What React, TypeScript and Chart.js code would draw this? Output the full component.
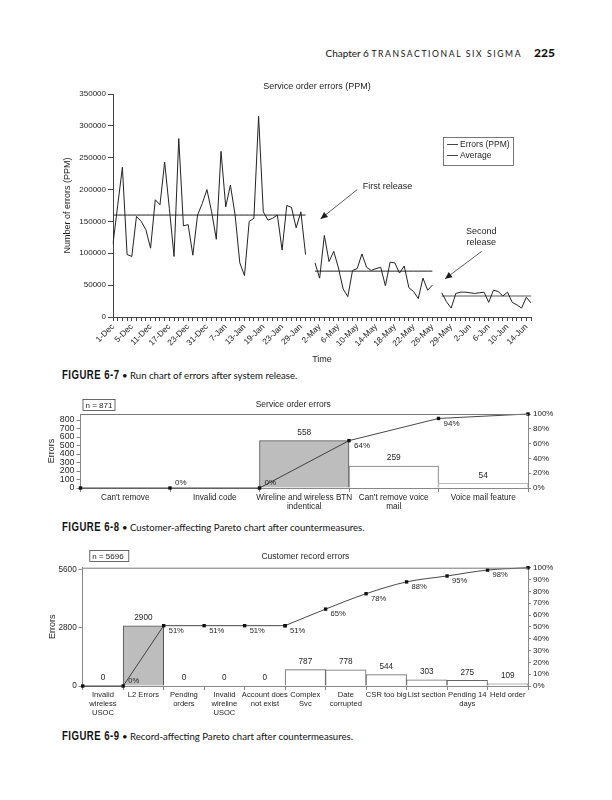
import React, { useEffect, useRef } from 'react';
import { Chart, registerables } from 'chart.js';

Chart.register(...registerables);

const SANS = '"Liberation Sans", Arial, Helvetica, sans-serif';
const INK = '#1e1e1e';

// ---------- Figure 6-7 : run chart ----------
const runTickLabels = ['1-Dec', '5-Dec', '11-Dec', '17-Dec', '23-Dec', '31-Dec', '7-Jan', '13-Jan', '19-Jan', '23-Jan', '29-Jan', '2-May', '6-May', '10-May', '14-May', '18-May', '22-May', '26-May', '29-May', '2-Jun', '6-Jun', '10-Jun', '14-Jun'];
const decJanErrors = [115000, 175000, 235000, 98000, 95000, 158000, 150000, 137000, 108000, 184000, 176000, 243000, 170000, 95000, 280000, 143000, 145000, 97000, 160000, 178000, 200000, 165000, 122000, 260000, 173000, 207000, 160000, 85000, 65000, 150000, 155000, 315000, 165000, 152000, 155000, 160000, 105000, 175000, 172000, 140000, 165000, 98000];
const mayErrors = [85000, 61000, 128000, 87000, 103000, 77000, 44000, 32000, 73000, 76000, 99000, 78000, 73000, 76000, 78000, 49000, 86000, 85000, 69000, 80000, 46000, 40000, 29000, 61000, 42000, 50000];
const juneErrors = [38000, 24000, 14000, 37000, 39000, 39000, 38000, 37000, 38000, 39000, 23000, 42000, 40000, 33000, 39000, 23000, 19000, 14000, 31000, 22000];
const periodAverages = [160000, 72000, 33000];
const runYMax = 350000;
const runYStep = 50000;

// ---------- Figure 6-8 : service order errors pareto ----------
const svcCategories = [["Can't remove"], ['Invalid code'], ['Wireline and wireless BTN', 'indentical'], ["Can't remove voice", 'mail'], ['Voice mail feature']];
const svcErrors = [0, 0, 558, 259, 54];
const svcCumPct = [0, 0, 0, 64, 94, 100];
const svcCumLabels = ['', '0%', '0%', '64%', '94%', ''];
const svcTotal = 871;
const svcLeftTicks = [0, 100, 200, 300, 400, 500, 600, 700, 800];
const svcRightTicks = [0, 20, 40, 60, 80, 100];

// ---------- Figure 6-9 : customer record errors pareto ----------
const recCategories = [['Invalid', 'wireless', 'USOC'], ['L2 Errors'], ['Pending', 'orders'], ['Invalid', 'wireline', 'USOC'], ['Account does', 'not exist'], ['Complex', 'Svc'], ['Date', 'corrupted'], ['CSR too big'], ['List section'], ['Pending 14', 'days'], ['Held order']];
const recErrors = [0, 2900, 0, 0, 0, 787, 778, 544, 303, 275, 109];
const recCumPct = [0, 0, 51, 51, 51, 51, 65, 78, 88, 93, 98, 100];
const recCumLabels = ['', '0%', '51%', '51%', '51%', '51%', '65%', '78%', '88%', '95%', '98%', ''];
const recTotal = 5696;
const recLeftTicks = [0, 2800, 5600];
const recRightTicks = [0, 10, 20, 30, 40, 50, 60, 70, 80, 90, 100];

function drawArrow(ctx: CanvasRenderingContext2D, x1: number, y1: number, x2: number, y2: number) {
  ctx.beginPath();
  ctx.moveTo(x1, y1);
  ctx.lineTo(x2, y2);
  ctx.stroke();
  const ang = Math.atan2(y2 - y1, x2 - x1);
  const len = 7;
  const w = 3.2;
  const bx = x2 - len * Math.cos(ang);
  const by = y2 - len * Math.sin(ang);
  ctx.beginPath();
  ctx.moveTo(x2, y2);
  ctx.lineTo(bx + w * Math.sin(ang), by - w * Math.cos(ang));
  ctx.lineTo(bx - w * Math.sin(ang), by + w * Math.cos(ang));
  ctx.closePath();
  ctx.fill();
}

function RunChart() {
  const ref = useRef<HTMLCanvasElement>(null);
  useEffect(() => {
    const errors: (number | null)[] = [...decJanErrors, null, ...mayErrors, null, ...juneErrors];
    const labels = errors.map((_, i) => (i % 4 === 0 ? runTickLabels[i / 4] ?? '' : ''));
    const e1 = decJanErrors.length - 1;
    const s2 = decJanErrors.length + 1;
    const e2 = s2 + mayErrors.length - 1;
    const s3 = e2 + 2;
    const avgDark = errors.map((_, i) => (i <= e1 ? periodAverages[0] : i >= s2 && i <= e2 ? periodAverages[1] : null));
    const avgLight = errors.map((_, i) => (i >= s3 ? periodAverages[2] : null));

    const annot = {
      id: 'runAnnot',
      afterDraw(chart: any) {
        const { ctx, chartArea: a, scales } = chart;
        const X = (v: number) => scales.x.getPixelForValue(v);
        const Y = (v: number) => scales.y.getPixelForValue(v);
        ctx.save();
        ctx.fillStyle = INK;
        ctx.strokeStyle = '#333';
        ctx.font = `9px ${SANS}`;
        ctx.textAlign = 'center';
        ctx.textBaseline = 'middle';
        ctx.fillText('Service order errors (PPM)', (a.left + a.right) / 2 - 5, a.top - 7);
        // legend
        const lx = a.right - 88;
        const ly = a.top + 43;
        ctx.lineWidth = 0.8;
        ctx.strokeStyle = '#555';
        ctx.strokeRect(lx + 0.5, ly + 0.5, 70, 28);
        ctx.font = `8.5px ${SANS}`;
        ctx.textAlign = 'left';
        const items = ['Errors (PPM)', 'Average'];
        items.forEach((t, k) => {
          const yy = ly + 7.5 + k * 11;
          ctx.strokeStyle = '#444';
          ctx.lineWidth = 1;
          ctx.beginPath();
          ctx.moveTo(lx + 4, yy);
          ctx.lineTo(lx + 15, yy);
          ctx.stroke();
          ctx.fillText(t, lx + 17, yy + 0.5);
        });
        // release annotations
        ctx.strokeStyle = '#333';
        ctx.fillStyle = INK;
        ctx.lineWidth = 0.8;
        ctx.font = `9px ${SANS}`;
        ctx.textAlign = 'left';
        ctx.fillText('First release', X(53.2), Y(204500));
        drawArrow(ctx, X(52), Y(200000), X(44.2), Y(154000));
        ctx.textAlign = 'center';
        ctx.fillText('Second', X(78.4), Y(134400));
        ctx.fillText('release', X(78.4), Y(117000));
        drawArrow(ctx, X(78.5), Y(103000), X(70.7), Y(60000));
        ctx.restore();
      },
    };

    const chart = new Chart(ref.current!, {
      type: 'line',
      data: {
        labels,
        datasets: [
          { data: errors, borderColor: '#222', borderWidth: 1, pointRadius: 0, spanGaps: false, tension: 0 },
          { data: avgDark, borderColor: '#222', borderWidth: 1, pointRadius: 0, spanGaps: false },
          { data: avgLight, borderColor: '#aaaaaa', borderWidth: 2, pointRadius: 0, spanGaps: false },
        ],
      },
      options: {
        animation: false,
        responsive: false,
        events: [],
        layout: { padding: { top: 16, right: 19, bottom: 0, left: 0 } },
        plugins: { legend: { display: false }, tooltip: { enabled: false } },
        scales: {
          x: {
            type: 'category',
            offset: false,
            grid: { drawOnChartArea: false, tickLength: 4, color: '#444' },
            border: { color: '#444' },
            ticks: { autoSkip: false, minRotation: 45, maxRotation: 45, padding: 1, color: INK, font: { family: SANS, size: 8.3 } },
            title: { display: true, text: 'Time', color: INK, font: { family: SANS, size: 9 }, padding: { top: 0, bottom: 3 } },
            afterFit: (s: any) => { s.height = 51; },
          },
          y: {
            min: 0,
            max: runYMax,
            ticks: { stepSize: runYStep, padding: 2, color: INK, font: { family: SANS, size: 8 }, callback: (v: any) => String(v) },
            grid: { drawOnChartArea: false, tickLength: 5, color: '#444' },
            border: { color: '#444' },
            title: { display: true, text: 'Number of errors (PPM)', color: INK, font: { family: SANS, size: 9 }, padding: { top: 12.6, bottom: 0 } },
            afterFit: (s: any) => { s.width = 63; },
          },
        },
      } as any,
      plugins: [annot],
    });
    return () => chart.destroy();
  }, []);
  return <canvas ref={ref} width={500} height={290} style={{ position: 'absolute', left: 50, top: 78, width: 500, height: 290 }} />;
}

type ParetoProps = {
  left: number; top: number; width: number; height: number;
  yWidth: number; y2Width: number; padTop: number; xHeight: number; yTitlePad: number;
  title: string; titleDx: number; titleDy: number;
  nText: string; nDx: number; nDy: number; nW: number;
  catFont: number; pctFont: number; valFont: number; tickFont: number;
  categories: string[][]; values: number[]; cum: number[]; cumLabels: string[];
  total: number; leftTicks: number[]; rightTicks: number[];
  fills: string[]; borders: string[]; showZero: boolean; smoothFrom: number | null;
};

function ParetoChart(p: ParetoProps) {
  const ref = useRef<HTMLCanvasElement>(null);
  useEffect(() => {
    const pts = p.cum.map((v, i) => ({ x: i, y: v }));
    const lineCommon = {
      type: 'line', xAxisID: 'x2', yAxisID: 'y2', borderColor: '#333', borderWidth: 0.9,
      pointStyle: 'rect', pointRadius: 2.4, pointBackgroundColor: '#111', pointBorderColor: '#111', pointBorderWidth: 0,
      clip: false, order: 1,
    };
    const lineSets: any[] = [];
    if (p.smoothFrom === null) {
      lineSets.push({ ...lineCommon, data: pts, tension: 0 });
    } else {
      lineSets.push({ ...lineCommon, data: pts.slice(0, p.smoothFrom + 1), tension: 0 });
      lineSets.push({ ...lineCommon, data: pts.slice(p.smoothFrom), cubicInterpolationMode: 'monotone' });
    }

    const annot = {
      id: 'paretoAnnot',
      afterDraw(chart: any) {
        const { ctx, chartArea: a } = chart;
        ctx.save();
        ctx.strokeStyle = '#777';
        ctx.lineWidth = 1;
        ctx.beginPath();
        ctx.moveTo(a.left, a.top + 0.5);
        ctx.lineTo(a.right, a.top + 0.5);
        ctx.stroke();
        ctx.fillStyle = INK;
        ctx.textBaseline = 'middle';
        ctx.textAlign = 'center';
        ctx.font = `8.5px ${SANS}`;
        ctx.fillText(p.title, (a.left + a.right) / 2 + p.titleDx, a.top - p.titleDy);
        ctx.strokeStyle = '#444';
        ctx.lineWidth = 0.8;
        const bx = a.left + p.nDx;
        const by = a.top - p.nDy;
        ctx.strokeRect(bx + 0.5, by + 0.5, p.nW, 11);
        ctx.font = `8px ${SANS}`;
        ctx.textAlign = 'left';
        ctx.fillText(p.nText, bx + 3, by + 6.5);
        ctx.textAlign = 'center';
        ctx.font = `${p.valFont}px ${SANS}`;
        const bars = chart.getDatasetMeta(0).data;
        bars.forEach((b: any, i: number) => {
          const v = p.values[i];
          if (v === 0 && !p.showZero) return;
          ctx.fillText(String(v), b.x, b.y - 8);
        });
        ctx.textAlign = 'left';
        ctx.font = `${p.pctFont}px ${SANS}`;
        p.cum.forEach((v, i) => {
          const lab = p.cumLabels[i];
          if (!lab) return;
          const x = chart.scales.x2.getPixelForValue(i);
          const y = chart.scales.y2.getPixelForValue(v);
          ctx.fillText(lab, x + 5, Math.min(y + 5, a.bottom - 5));
        });
        ctx.restore();
      },
    };

    const chart = new Chart(ref.current!, {
      type: 'bar',
      data: {
        labels: p.categories,
        datasets: [
          {
            type: 'bar', data: p.values, xAxisID: 'x', yAxisID: 'y', backgroundColor: p.fills, borderColor: p.borders,
            borderWidth: 1, barPercentage: 1, categoryPercentage: 1, grouped: false, order: 2,
          },
          ...lineSets,
        ],
      },
      options: {
        animation: false,
        responsive: false,
        events: [],
        layout: { padding: { top: p.padTop, right: 0, bottom: 0, left: 0 } },
        plugins: { legend: { display: false }, tooltip: { enabled: false } },
        scales: {
          x: {
            type: 'category',
            offset: true,
            grid: { offset: true, drawOnChartArea: false, tickLength: 4, color: '#888' },
            border: { color: '#888' },
            ticks: { autoSkip: false, maxRotation: 0, minRotation: 0, padding: 1, color: INK, font: { family: SANS, size: p.catFont, lineHeight: 1.15 } },
            afterFit: (s: any) => { s.height = p.xHeight; },
          },
          x2: { type: 'linear', display: false, offset: false, grid: { offset: false }, min: 0, max: p.categories.length },
          y: {
            min: 0,
            max: p.total,
            afterBuildTicks: (s: any) => { s.ticks = p.leftTicks.map((v) => ({ value: v })); },
            ticks: { autoSkip: false, padding: 2, color: INK, font: { family: SANS, size: p.tickFont }, callback: (v: any) => String(v) },
            grid: { drawOnChartArea: false, tickLength: 4, color: '#888' },
            border: { color: '#888' },
            title: { display: true, text: 'Errors', color: INK, font: { family: SANS, size: 9 }, padding: { top: p.yTitlePad, bottom: 0 } },
            afterFit: (s: any) => { s.width = p.yWidth; },
          },
          y2: {
            position: 'right',
            min: 0,
            max: 100,
            afterBuildTicks: (s: any) => { s.ticks = p.rightTicks.map((v) => ({ value: v })); },
            ticks: { autoSkip: false, padding: 2, color: INK, font: { family: SANS, size: 8 }, callback: (v: any) => v + '%' },
            grid: { drawOnChartArea: false, tickLength: 3, color: '#888' },
            border: { color: '#888' },
            afterFit: (s: any) => { s.width = p.y2Width; },
          },
        },
      } as any,
      plugins: [annot],
    });
    return () => chart.destroy();
  }, []);
  return <canvas ref={ref} width={p.width} height={p.height} style={{ position: 'absolute', left: p.left, top: p.top, width: p.width, height: p.height }} />;
}

const figStyle: React.CSSProperties = {
  position: 'absolute', left: 62, whiteSpace: 'nowrap', color: '#111',
  fontFamily: '"Liberation Sans", Arial, sans-serif', fontWeight: 700, fontSize: 12, letterSpacing: 0.6,
  transform: 'scaleX(0.8)', transformOrigin: 'left center',
};
const capTextStyle: React.CSSProperties = {
  position: 'absolute', left: 122, whiteSpace: 'nowrap', color: '#111',
  fontFamily: 'Lato, "Open Sans", sans-serif', fontSize: 9.6,
};

function Caption({ top, fig, text }: { top: number; fig: string; text: string }) {
  return (
    <>
      <div style={{ ...figStyle, top }}>{fig}</div>
      <div style={{ ...capTextStyle, top: top + 2 }}>• {text}</div>
    </>
  );
}

export default function App() {
  return (
    <div style={{ position: 'absolute', left: 0, top: 0, width: 612, height: 800, background: '#fff', overflow: 'hidden' }}>
      <div style={{ position: 'absolute', top: 41, right: 57, whiteSpace: 'nowrap', color: '#111', fontFamily: 'Lato, "Open Sans", sans-serif' }}>
        <span style={{ fontSize: 10 }}>Chapter 6 </span>
        <span style={{ fontSize: 8.6, letterSpacing: 1.6 }}>TRANSACTIONAL SIX SIGMA</span>
        <span style={{ fontSize: 12, fontWeight: 900, marginLeft: 12 }}>225</span>
      </div>
      <RunChart />
      <Caption top={368} fig="FIGURE 6-7" text="Run chart of errors after system release." />
      <ParetoChart
        left={40} top={395} width={532} height={125}
        yWidth={40.5} y2Width={44} padTop={19} xHeight={32} yTitlePad={6.3}
        title="Service order errors" titleDx={-11} titleDy={9}
        nText="n = 871" nDx={2} nDy={15} nW={32}
        catFont={8.2} pctFont={8} valFont={8.4} tickFont={8.8}
        categories={svcCategories} values={svcErrors} cum={svcCumPct} cumLabels={svcCumLabels}
        total={svcTotal} leftTicks={svcLeftTicks} rightTicks={svcRightTicks}
        fills={['#ffffff', '#ffffff', '#bdbdbd', '#ffffff', '#ffffff']}
        borders={['#888', '#888', '#555', '#777', '#bbbbbb']}
        showZero={false} smoothFrom={null}
      />
      <Caption top={520} fig="FIGURE 6-8" text="Customer-affecting Pareto chart after countermeasures." />
      <ParetoChart
        left={40} top={545} width={532} height={175}
        yWidth={42.7} y2Width={44} padTop={22.7} xHeight={34} yTitlePad={7}
        title="Customer record errors" titleDx={0} titleDy={11}
        nText="n = 5696" nDx={6.6} nDy={17.7} nW={39}
        catFont={7.6} pctFont={7.6} valFont={8.2} tickFont={8.2}
        categories={recCategories} values={recErrors} cum={recCumPct} cumLabels={recCumLabels}
        total={recTotal} leftTicks={recLeftTicks} rightTicks={recRightTicks}
        fills={['#ffffff', '#bdbdbd', '#ffffff', '#ffffff', '#ffffff', '#ffffff', '#ffffff', '#ffffff', '#ffffff', '#ffffff', '#ffffff']}
        borders={['#777', '#555', '#777', '#777', '#777', '#666', '#666', '#666', '#666', '#666', '#666']}
        showZero={true} smoothFrom={5}
      />
      <Caption top={729} fig="FIGURE 6-9" text="Record-affecting Pareto chart after countermeasures." />
    </div>
  );
}
